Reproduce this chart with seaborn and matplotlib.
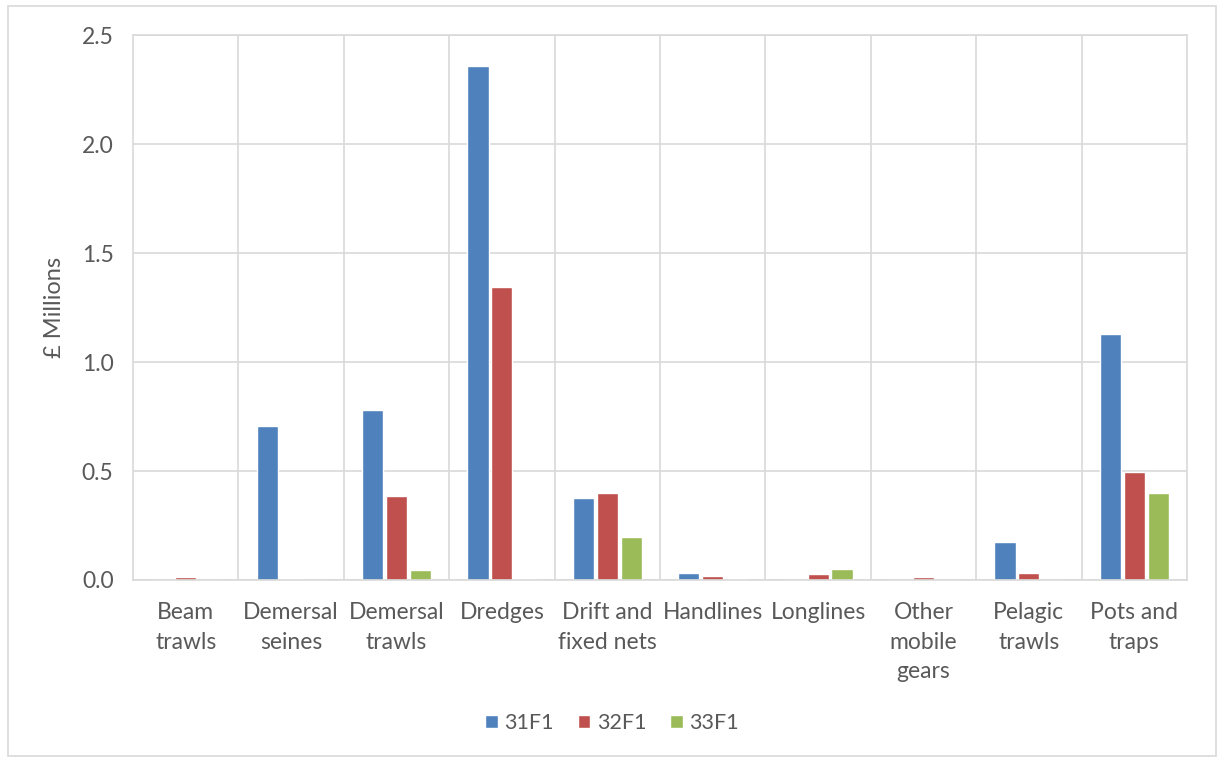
import matplotlib
matplotlib.use("Agg")
import matplotlib.pyplot as plt
import seaborn as sns
import pandas as pd
from matplotlib.patches import Rectangle
from matplotlib.ticker import FixedLocator

categories = ["Beam\ntrawls", "Demersal\nseines", "Demersal\ntrawls", "Dredges",
              "Drift and\nfixed nets", "Handlines", "Longlines",
              "Other\nmobile\ngears", "Pelagic\ntrawls", "Pots and\ntraps"]
series_names = ["31F1", "32F1", "33F1"]
v31 = [0.0, 0.706, 0.782, 2.358, 0.378, 0.034, 0.0, 0.0, 0.176, 1.128]
v32 = [0.015, 0.006, 0.386, 1.342, 0.398, 0.020, 0.028, 0.015, 0.030, 0.495]
v33 = [0.0, 0.0, 0.047, 0.004, 0.199, 0.005, 0.052, 0.0, 0.0, 0.399]
colors = ["#4F81BD", "#C0504D", "#9BBB59"]

rows = []
for name, vals in zip(series_names, [v31, v32, v33]):
    for c, v in zip(categories, vals):
        rows.append({"cat": c, "series": name, "val": v})
df = pd.DataFrame(rows)

sns.set_theme(style="white")
plt.rcParams['font.family'] = ['Lato', 'DejaVu Sans']
txt = "#595959"
grid = "#D9D9D9"

fig = plt.figure(figsize=(12.24, 7.6), dpi=100)
fig.patches.append(Rectangle((8/1224, 4/760), 1208/1224, 750/760, transform=fig.transFigure,
                             fill=False, edgecolor=grid, linewidth=1.2))
ax = fig.add_axes([133/1224, 1-580/760, (1187-133)/1224, (580-35)/760])

sns.barplot(data=df, x="cat", y="val", hue="series", palette=colors, order=categories,
            hue_order=series_names, width=0.68, gap=0.12, ax=ax, saturation=1, legend=True)

ax.set_ylim(0, 2.5)
ax.set_xlim(-0.5, len(categories) - 0.5)
ax.set_yticks([0, 0.5, 1.0, 1.5, 2.0, 2.5])
ax.set_yticklabels(["0.0", "0.5", "1.0", "1.5", "2.0", "2.5"])
ax.xaxis.set_minor_locator(FixedLocator([i + 0.5 for i in range(len(categories) - 1)]))
ax.grid(axis="y", which="major", color=grid, linewidth=1.2)
ax.grid(axis="x", which="minor", color=grid, linewidth=1.2)
ax.grid(axis="x", which="major", visible=False)
ax.set_axisbelow(True)
for s in ax.spines.values():
    s.set_color(grid)
    s.set_linewidth(1.2)
ax.tick_params(axis="both", which="both", length=0, colors=txt, labelsize=16.5)
ax.tick_params(axis="x", pad=16)
ax.tick_params(axis="y", pad=14)
for lab in ax.get_xticklabels():
    lab.set_linespacing(1.5)
ax.set_xlabel("")
ax.set_ylabel("£ Millions", color=txt, fontsize=17, labelpad=12)

handles, labels = ax.get_legend_handles_labels()
ax.get_legend().remove()
fig.legend(handles, labels, loc="center", bbox_to_anchor=(0.5, 1 - 723/760), ncol=3,
           frameon=False, fontsize=15.5, labelcolor=txt, handlelength=0.6, handleheight=0.6,
           handletextpad=0.3, columnspacing=1.1)

fig.savefig("out.png", dpi=100)
